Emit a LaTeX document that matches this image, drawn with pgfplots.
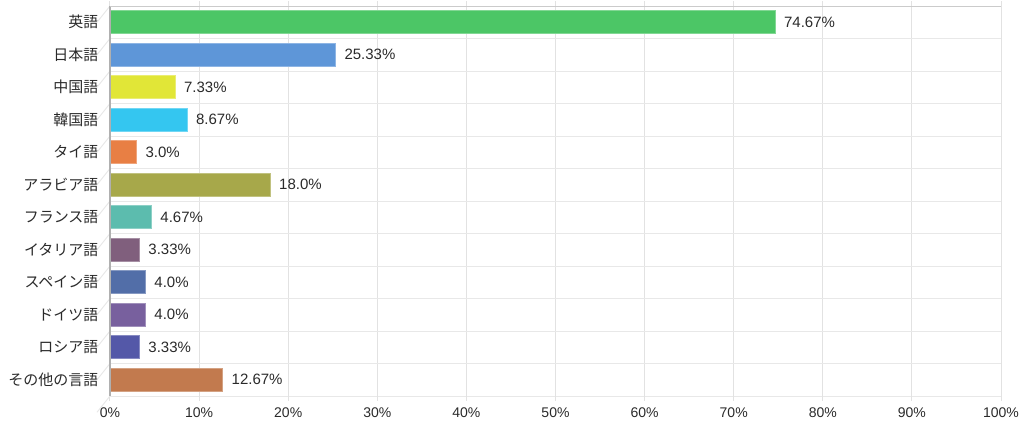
\documentclass[border=0pt]{standalone}
\usepackage{fontspec}
\setmainfont{Liberation Sans}
\newfontfamily\jp{Noto Sans CJK JP}
\usepackage{pgfplots}
\pgfplotsset{compat=1.18}
\definecolor{cA}{HTML}{4CC666}
\definecolor{cB}{HTML}{5E96D8}
\definecolor{cC}{HTML}{E1E637}
\definecolor{cD}{HTML}{34C6F0}
\definecolor{cE}{HTML}{E87F44}
\definecolor{cF}{HTML}{A7A84A}
\definecolor{cG}{HTML}{5CBCAE}
\definecolor{cH}{HTML}{805F7D}
\definecolor{cI}{HTML}{526EA8}
\definecolor{cJ}{HTML}{78609E}
\definecolor{cK}{HTML}{5458A8}
\definecolor{cL}{HTML}{C27A4E}
\definecolor{gridgray}{HTML}{E2E2E2}
\definecolor{axisgray}{HTML}{B0B0B0}
\definecolor{txt}{HTML}{2A2A2A}
\begin{document}
\begin{tikzpicture}
\begin{axis}[
  scale only axis, width=891bp, height=390bp,
  xmin=0, xmax=100, ymin=-0.5, ymax=11.5, y dir=reverse,
  axis line style={draw=none},
  xtick={0,10,...,100},
  xticklabel={\pgfmathprintnumber{\tick}\%},
  /pgf/number format/assume math mode=true,
  xticklabel style={font=\fontsize{14bp}{16bp}\selectfont, text=txt, yshift=-3bp},
  ytick={0,...,11},
  yticklabels={英語,日本語,中国語,韓国語,タイ語,アラビア語,フランス語,イタリア語,スペイン語,ドイツ語,ロシア語,その他の言語},
  yticklabel style={font=\jp\fontsize{15bp}{17bp}\selectfont, text=txt, xshift=-3bp},
  ytick style={draw=none},
  xtick style={draw=gridgray, line width=1bp},
  tick align=outside, major tick length=5bp,
  minor ytick={-0.5,0.5,...,11.5},
  xmajorgrids=true, yminorgrids=true,
  major grid style={draw=gridgray, line width=1bp},
  minor grid style={draw=gridgray!80, line width=1bp},
  xbar, bar width=0.7, bar shift=0pt,
  every axis plot/.append style={line width=1bp},
  nodes near coords, point meta=explicit symbolic,
  every node near coord/.append style={font=\fontsize{15bp}{17bp}\selectfont, text=txt, anchor=west, xshift=5bp},
  clip=false,
]
\addplot[fill=cA, draw=cA!70!white] coordinates {(74.67,0) [74.67\%]};
\addplot[fill=cB, draw=cB!70!white] coordinates {(25.33,1) [25.33\%]};
\addplot[fill=cC, draw=cC!70!white] coordinates {(7.33,2) [7.33\%]};
\addplot[fill=cD, draw=cD!70!white] coordinates {(8.67,3) [8.67\%]};
\addplot[fill=cE, draw=cE!70!white] coordinates {(3.0,4) [3.0\%]};
\addplot[fill=cF, draw=cF!70!white] coordinates {(18.0,5) [18.0\%]};
\addplot[fill=cG, draw=cG!70!white] coordinates {(4.67,6) [4.67\%]};
\addplot[fill=cH, draw=cH!70!white] coordinates {(3.33,7) [3.33\%]};
\addplot[fill=cI, draw=cI!70!white] coordinates {(4.0,8) [4.0\%]};
\addplot[fill=cJ, draw=cJ!70!white] coordinates {(4.0,9) [4.0\%]};
\addplot[fill=cK, draw=cK!70!white] coordinates {(3.33,10) [3.33\%]};
\addplot[fill=cL, draw=cL!70!white] coordinates {(12.67,11) [12.67\%]};
\foreach \yy in {-0.5,0.5,...,11.5} {
  \edef\tmp{\noexpand\draw[gridgray!80, line width=1bp] (axis cs:0,\yy) -- ++(-13bp,0);}\tmp
}
\draw[axisgray, line width=1.5bp] (axis cs:0,-0.5) -- (axis cs:0,11.5);
\draw[gridgray!90!black, line width=1bp] (axis cs:0,-0.5) -- (axis cs:100,-0.5);
\end{axis}
\pgfresetboundingbox
\path[use as bounding box] (current axis.south west) ++(-110bp,-37bp) rectangle ++(1024bp,433bp);
\end{tikzpicture}
\end{document}
